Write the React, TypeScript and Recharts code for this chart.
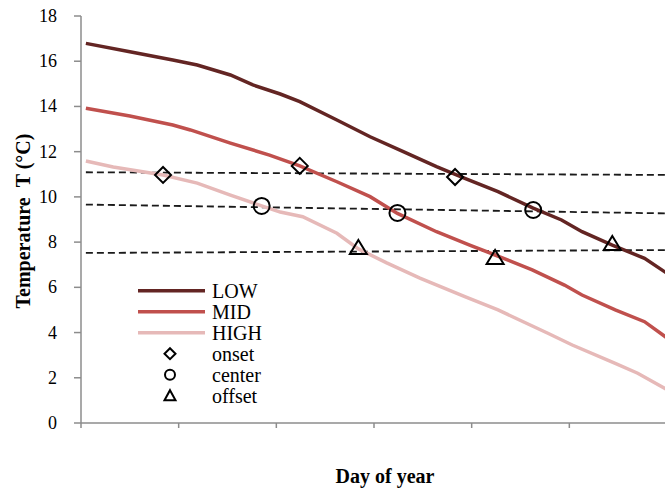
import React from 'react';
import { ComposedChart, Line, Scatter, XAxis, YAxis, Legend, Label } from 'recharts';

// [day position (tick units), temperature °C]
const lowSeries: number[][] = [
  [0.05, 16.79], [0.5, 16.42], [0.94, 16.05], [1.19, 15.83], [1.53, 15.39], [1.76, 14.95],
  [2.04, 14.55], [2.24, 14.21], [2.62, 13.4], [2.96, 12.66], [3.3, 12.0], [3.64, 11.34],
  [3.93, 10.82], [4.27, 10.23], [4.63, 9.5], [4.92, 8.98], [5.13, 8.46], [5.44, 7.87],
  [5.77, 7.28], [6.0, 6.62],
];
const midSeries: number[][] = [
  [0.05, 13.92], [0.5, 13.58], [0.94, 13.18], [1.12, 12.96], [1.53, 12.38], [1.93, 11.85],
  [2.24, 11.37], [2.62, 10.67], [2.96, 10.01], [3.24, 9.27], [3.64, 8.46], [3.98, 7.87],
  [4.24, 7.43], [4.62, 6.77], [4.95, 6.1], [5.13, 5.66], [5.47, 5.0], [5.77, 4.48], [6.0, 3.76],
];
const highSeries: number[][] = [
  [0.05, 11.59], [0.33, 11.32], [0.84, 10.97], [1.19, 10.61], [1.53, 10.08], [1.85, 9.6],
  [2.04, 9.33], [2.27, 9.12], [2.62, 8.39], [2.84, 7.7], [3.13, 7.08], [3.47, 6.41],
  [3.93, 5.59], [4.27, 5.0], [4.78, 3.97], [5.03, 3.45], [5.47, 2.64], [5.7, 2.2], [6.0, 1.48],
];
const onsetPoints: number[][] = [[0.84, 10.97], [2.24, 11.37], [3.83, 10.88]];
const centerPoints: number[][] = [[1.85, 9.6], [3.24, 9.29], [4.63, 9.42]];
const offsetPoints: number[][] = [[2.84, 7.74], [4.24, 7.3], [5.44, 7.92]];
const onsetRef: number[][] = [[0.05, 11.09], [6.0, 10.97]];
const centerRef: number[][] = [[0.05, 9.66], [6.0, 9.27]];
const offsetRef: number[][] = [[0.05, 7.52], [6.0, 7.65]];

const xTicks = [0, 1, 2, 3, 4, 5, 6];
const yTicks = [0, 2, 4, 6, 8, 10, 12, 14, 16, 18];
const seriesNames = ['LOW', 'MID', 'HIGH'];
const markerNames = ['onset', 'center', 'offset'];
const xTitle = 'Day of year';
const yTitle = 'Temperature\u00A0\u00A0T (°C)';

const COLORS = ['#632523', '#C0504D', '#E6B9B8'];
const FONT = '"Liberation Serif", "Times New Roman", serif';

const toData = (arr: number[][]) => arr.map(([x, y]) => ({ x, y }));

const Diamond = (p: any) => {
  const { cx, cy } = p;
  const s = 8;
  return <polygon points={`${cx},${cy - s} ${cx + s},${cy} ${cx},${cy + s} ${cx - s},${cy}`} fill="none" stroke="#000" strokeWidth={2} />;
};
const Circ = (p: any) => <circle cx={p.cx} cy={p.cy} r={8} fill="none" stroke="#000" strokeWidth={2} />;
const Tri = (p: any) => {
  const { cx, cy } = p;
  return <polygon points={`${cx},${cy - 8} ${cx + 8.5},${cy + 6} ${cx - 8.5},${cy + 6}`} fill="none" stroke="#000" strokeWidth={2} />;
};

const YTick = (p: any) => (
  <text x={p.x} y={p.y} textAnchor="end" dominantBaseline="central" fontFamily={FONT} fontSize={18} fill="#000">
    {p.payload.value}
  </text>
);

const renderLegend = () => {
  const rowY = (i: number) => 15.7 + i * 21;
  return (
    <svg width={160} height={135} style={{ display: 'block', overflow: 'visible' }}>
      {seriesNames.map((n, i) => (
        <g key={n}>
          <line x1={8} x2={75} y1={rowY(i)} y2={rowY(i)} stroke={COLORS[i]} strokeWidth={3.5} />
          <text x={82} y={rowY(i)} dominantBaseline="central" fontFamily={FONT} fontSize={20} fill="#000">{n}</text>
        </g>
      ))}
      {markerNames.map((n, j) => {
        const y = rowY(j + 3);
        const cx = 40;
        let mk;
        if (j === 0) mk = <polygon points={`${cx},${y - 5.5} ${cx + 5.5},${y} ${cx},${y + 5.5} ${cx - 5.5},${y}`} fill="none" stroke="#000" strokeWidth={2} />;
        else if (j === 1) mk = <circle cx={cx} cy={y} r={5} fill="none" stroke="#000" strokeWidth={2} />;
        else mk = <polygon points={`${cx},${y - 5.5} ${cx + 5.5},${y + 4.5} ${cx - 5.5},${y + 4.5}`} fill="none" stroke="#000" strokeWidth={2} />;
        return (
          <g key={n}>
            {mk}
            <text x={82} y={y} dominantBaseline="central" fontFamily={FONT} fontSize={20} fill="#000">{n}</text>
          </g>
        );
      })}
    </svg>
  );
};

export default function App() {
  return (
    <div style={{ position: 'absolute', left: 0, top: 0, width: 665, height: 493, overflow: 'hidden', background: '#fff' }}>
      <ComposedChart width={670} height={493} margin={{ top: 16, right: 3, bottom: 30, left: 0 }}>
        <XAxis
          type="number"
          dataKey="x"
          domain={[0, 6]}
          ticks={xTicks}
          tickFormatter={() => ''}
          tickSize={5}
          axisLine={{ stroke: '#8c8c8c', strokeWidth: 1.5 }}
          tickLine={{ stroke: '#8c8c8c', strokeWidth: 1.5 }}
          height={40}
          allowDataOverflow
        >
          <Label
            content={() => (
              <text x={385} y={476} textAnchor="middle" dominantBaseline="central" fontFamily={FONT} fontSize={20} fontWeight="bold" fill="#000">{xTitle}</text>
            )}
          />
        </XAxis>
        <YAxis
          type="number"
          dataKey="y"
          domain={[0, 18]}
          ticks={yTicks}
          width={81}
          tickSize={7}
          tickMargin={17}
          axisLine={{ stroke: '#8c8c8c', strokeWidth: 1.5 }}
          tickLine={{ stroke: '#8c8c8c', strokeWidth: 1.5 }}
          tick={YTick}
        >
          <Label
            content={() => (
              <text x={30} y={221} transform="rotate(-90, 30, 221)" textAnchor="middle" fontFamily={FONT} fontSize={20} fontWeight="bold" fill="#000">{yTitle}</text>
            )}
          />
        </YAxis>
        <Legend
          layout="horizontal"
          verticalAlign="middle"
          align="center"
          content={renderLegend}
          wrapperStyle={{ position: 'absolute', left: 130, top: 275, width: 160, height: 135 }}
        />
        <Line data={toData(onsetRef)} dataKey="y" stroke="#1a1a1a" strokeWidth={1.8} strokeDasharray="7 4" dot={false} activeDot={false} isAnimationActive={false} legendType="none" />
        <Line data={toData(centerRef)} dataKey="y" stroke="#1a1a1a" strokeWidth={1.8} strokeDasharray="7 4" dot={false} activeDot={false} isAnimationActive={false} legendType="none" />
        <Line data={toData(offsetRef)} dataKey="y" stroke="#1a1a1a" strokeWidth={1.8} strokeDasharray="7 4" dot={false} activeDot={false} isAnimationActive={false} legendType="none" />
        <Line data={toData(lowSeries)} dataKey="y" name="LOW" stroke={COLORS[0]} strokeWidth={3.5} dot={false} activeDot={false} isAnimationActive={false} type="linear" />
        <Line data={toData(midSeries)} dataKey="y" name="MID" stroke={COLORS[1]} strokeWidth={3.5} dot={false} activeDot={false} isAnimationActive={false} type="linear" />
        <Line data={toData(highSeries)} dataKey="y" name="HIGH" stroke={COLORS[2]} strokeWidth={3.5} dot={false} activeDot={false} isAnimationActive={false} type="linear" />
        <Scatter data={toData(onsetPoints)} dataKey="y" name="onset" shape={Diamond} isAnimationActive={false} />
        <Scatter data={toData(centerPoints)} dataKey="y" name="center" shape={Circ} isAnimationActive={false} />
        <Scatter data={toData(offsetPoints)} dataKey="y" name="offset" shape={Tri} isAnimationActive={false} />
      </ComposedChart>
    </div>
  );
}
